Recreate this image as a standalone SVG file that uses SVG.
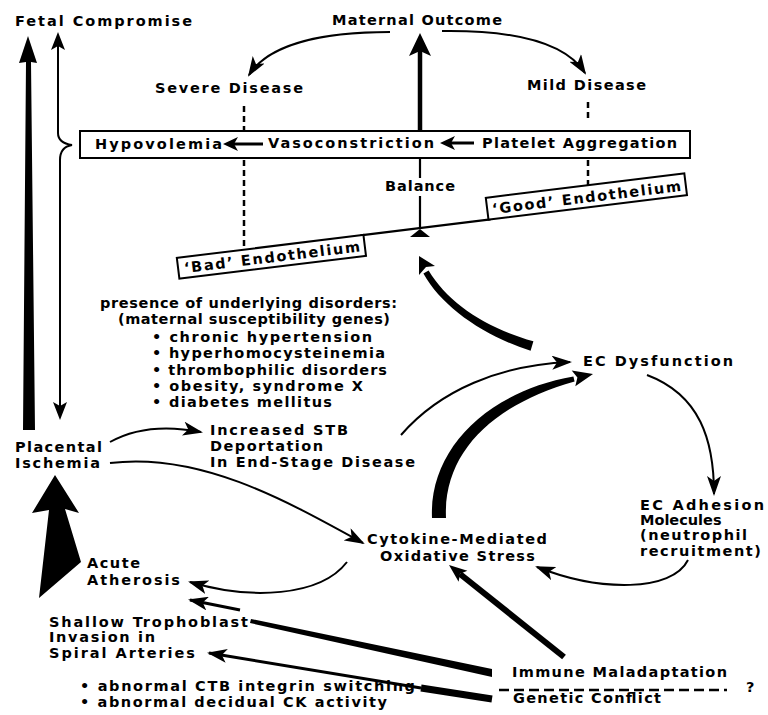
<svg xmlns="http://www.w3.org/2000/svg" width="768" height="715" viewBox="0 0 768 715">
<defs>
<style>
.t{font-family:"DejaVu Sans","Liberation Sans",sans-serif;font-weight:bold;font-size:14.5px;fill:#000}
.ln{fill:none;stroke:#000;stroke-width:2}
.dash{fill:none;stroke:#000;stroke-width:2.5;stroke-dasharray:6 4}
.bx{fill:#fff;stroke:#000;stroke-width:2}
.f{fill:#000;stroke:none}
</style>
<marker id="ah" markerUnits="userSpaceOnUse" markerWidth="20" markerHeight="14" viewBox="0 0 20 14" refX="18" refY="7" orient="auto"><path d="M0,0 L20,7 L0,14 L5,7 Z" fill="#000"/></marker>
</defs>
<rect width="768" height="715" fill="#fff"/>

<g id="connectors">
  <polygon class="f" points="23,430 26,62 19,63 28,36 37,63 31,62 35,430"/>
  <path class="ln" d="M58,46 L58,133 Q58,143 72,145 Q60,147 60,160 L60,406"/>
  <polygon class="f" points="58,32 51,50 58,46 65,50"/>
  <polygon class="f" points="60,420 53,402 60,406 67,402"/>
  <line x1="420" y1="131" x2="420" y2="50" stroke="#000" stroke-width="4.5"/>
  <polygon class="f" points="420,33 409,56 420,51 431,56"/>
  <path class="ln" d="M390,32 C320,32 268,45 249,75" marker-end="url(#ah)"/>
  <path class="ln" d="M442,31 C515,30 565,42 585,73" marker-end="url(#ah)"/>
  <line class="dash" x1="244" y1="106" x2="244" y2="130"/>
  <line class="dash" x1="244" y1="160" x2="244" y2="249"/>
  <line class="dash" x1="588" y1="102" x2="588" y2="122"/>
  <line class="dash" x1="588" y1="160" x2="588" y2="186"/>
  <line x1="420" y1="158" x2="420" y2="178" stroke="#000" stroke-width="2.2"/>
  <line x1="420" y1="196" x2="420" y2="229" stroke="#000" stroke-width="2.2"/>
  <polygon class="f" points="420,229 410,237 430,237"/>
  <g transform="rotate(-7 420 228)">
    <line x1="360" y1="228" x2="491" y2="228" stroke="#000" stroke-width="2.2"/>
  </g>
  <path class="f" d="M533.4,341.2 C486,328 448,303 428.6,270.5 L423.4,273.5 C442,307 484,336 530.6,350.8 Z"/>
  <polygon class="f" points="419,256 435,266 426,267 419,275"/>
  <path class="f" d="M432,518 C429,450 486,392 573.4,376.6 L574.6,381.4 C494,404 443,452 446,518 Z"/>
  <polygon class="f" points="593,374 571.7,370.6 577.4,377.5 575.3,386.2"/>
  <path class="ln" d="M401,435 C440,390 500,365 570,362" marker-end="url(#ah)"/>
  <path class="ln" d="M647,375 C700,395 714,440 714,494" marker-end="url(#ah)"/>
  <path class="ln" d="M688,560 C672,592 600,592 537,567" marker-end="url(#ah)"/>
  <path class="ln" d="M110,442 C135,428 165,425 201,432" marker-end="url(#ah)"/>
  <path class="ln" d="M110,463 C200,452 285,500 363,543" marker-end="url(#ah)"/>
  <path class="ln" d="M347,562 C320,597 250,600 190,582" marker-end="url(#ah)"/>
  <polygon class="f" points="55,475 79,513 65,509 81,562 39,598 49,510 32,513"/>
  <line x1="564" y1="657" x2="460" y2="574" stroke="#000" stroke-width="6"/>
  <polygon class="f" points="449,565 467.4,570.8 460,573.8 458.6,581.8"/>
  <polygon class="f" points="251,619 492,669 492,677 250,623"/>
  <path d="M240,610 L190,600" fill="none" stroke="#000" stroke-width="3" marker-end="url(#ah)"/>
  <line x1="421" y1="688" x2="492" y2="699" stroke="#000" stroke-width="7"/>
  <path d="M421,688 L209,653" fill="none" stroke="#000" stroke-width="3" marker-end="url(#ah)"/>
  <line x1="499" y1="690" x2="727" y2="690" stroke="#000" stroke-width="2.5" stroke-dasharray="10 5"/>
</g>

<g id="fetal-compromise"><text class="t" x="15" y="26" textLength="177">Fetal Compromise</text></g>
<g id="maternal-outcome"><text class="t" x="332" y="25" textLength="170">Maternal Outcome</text></g>
<g id="severe-disease"><text class="t" x="155" y="93" textLength="148">Severe Disease</text></g>
<g id="mild-disease"><text class="t" x="527" y="90" textLength="119">Mild Disease</text></g>

<g id="cascade-box">
  <rect x="80" y="131" width="610" height="27" fill="none" stroke="#000" stroke-width="2"/>
  <text class="t" x="95" y="149" textLength="127">Hypovolemia</text>
  <line x1="263" y1="144" x2="232" y2="144" stroke="#000" stroke-width="3"/>
  <polygon class="f" points="223,144 238,137 234,144 238,151"/>
  <text class="t" x="268" y="148" textLength="166">Vasoconstriction</text>
  <line x1="474" y1="143" x2="448" y2="143" stroke="#000" stroke-width="3"/>
  <polygon class="f" points="440,143 455,136 451,143 455,150"/>
  <text class="t" x="482" y="148" textLength="195">Platelet Aggregation</text>
</g>
<g id="balance"><text class="t" x="385" y="191" textLength="70">Balance</text></g>

<g id="bad-endothelium" transform="rotate(-7 420 228)">
  <rect class="bx" x="175" y="228" width="188" height="21"/>
  <text class="t" x="181" y="244" textLength="177">‘Bad’ Endothelium</text>
</g>
<g id="good-endothelium" transform="rotate(-7 420 228)">
  <rect class="bx" x="489" y="206" width="200" height="22"/>
  <text class="t" x="494" y="223" textLength="190">‘Good’ Endothelium</text>
</g>

<g id="underlying-disorders">
  <text class="t" x="100" y="308" textLength="297">presence of underlying disorders:</text>
  <text class="t" x="118" y="324" textLength="272">(maternal susceptibility genes)</text>
  <text class="t" x="152" y="342" textLength="220">• chronic hypertension</text>
  <text class="t" x="152" y="358" textLength="233">• hyperhomocysteinemia</text>
  <text class="t" x="152" y="375" textLength="235">• thrombophilic disorders</text>
  <text class="t" x="152" y="391" textLength="211">• obesity, syndrome X</text>
  <text class="t" x="152" y="407" textLength="180">• diabetes mellitus</text>
</g>

<g id="ec-dysfunction"><text class="t" x="583" y="366" textLength="150">EC Dysfunction</text></g>

<g id="stb-deportation">
  <text class="t" x="210" y="435" textLength="138">Increased STB</text>
  <text class="t" x="210" y="451" textLength="113">Deportation</text>
  <text class="t" x="210" y="467" textLength="205">In End-Stage Disease</text>
</g>

<g id="placental-ischemia">
  <text class="t" x="15" y="452" textLength="87">Placental</text>
  <text class="t" x="15" y="468" textLength="85">Ischemia</text>
</g>

<g id="oxidative-stress">
  <text class="t" x="367" y="544" textLength="180">Cytokine-Mediated</text>
  <text class="t" x="380" y="561" textLength="155">Oxidative Stress</text>
</g>

<g id="ec-adhesion">
  <text class="t" x="640" y="510" textLength="124">EC Adhesion</text>
  <text class="t" x="640" y="525">Molecules</text>
  <text class="t" x="640" y="540" textLength="107">(neutrophil</text>
  <text class="t" x="640" y="556" textLength="121">recruitment)</text>
</g>

<g id="acute-atherosis">
  <text class="t" x="87" y="568" textLength="53">Acute</text>
  <text class="t" x="87" y="585" textLength="93">Atherosis</text>
</g>

<g id="shallow-trophoblast">
  <text class="t" x="49" y="627" textLength="199">Shallow Trophoblast</text>
  <text class="t" x="49" y="642" textLength="106">Invasion in</text>
  <text class="t" x="49" y="658" textLength="146">Spiral Arteries</text>
</g>

<g id="abnormal-list">
  <text class="t" x="80" y="691" textLength="335">• abnormal CTB integrin switching</text>
  <text class="t" x="80" y="707" textLength="307">• abnormal decidual CK activity</text>
</g>

<g id="immune-maladaptation"><text class="t" x="512" y="677" textLength="215">Immune Maladaptation</text></g>
<g id="genetic-conflict"><text class="t" x="513" y="703" textLength="148">Genetic Conflict</text></g>
<g id="question"><text class="t" x="746" y="692">?</text></g>
</svg>
